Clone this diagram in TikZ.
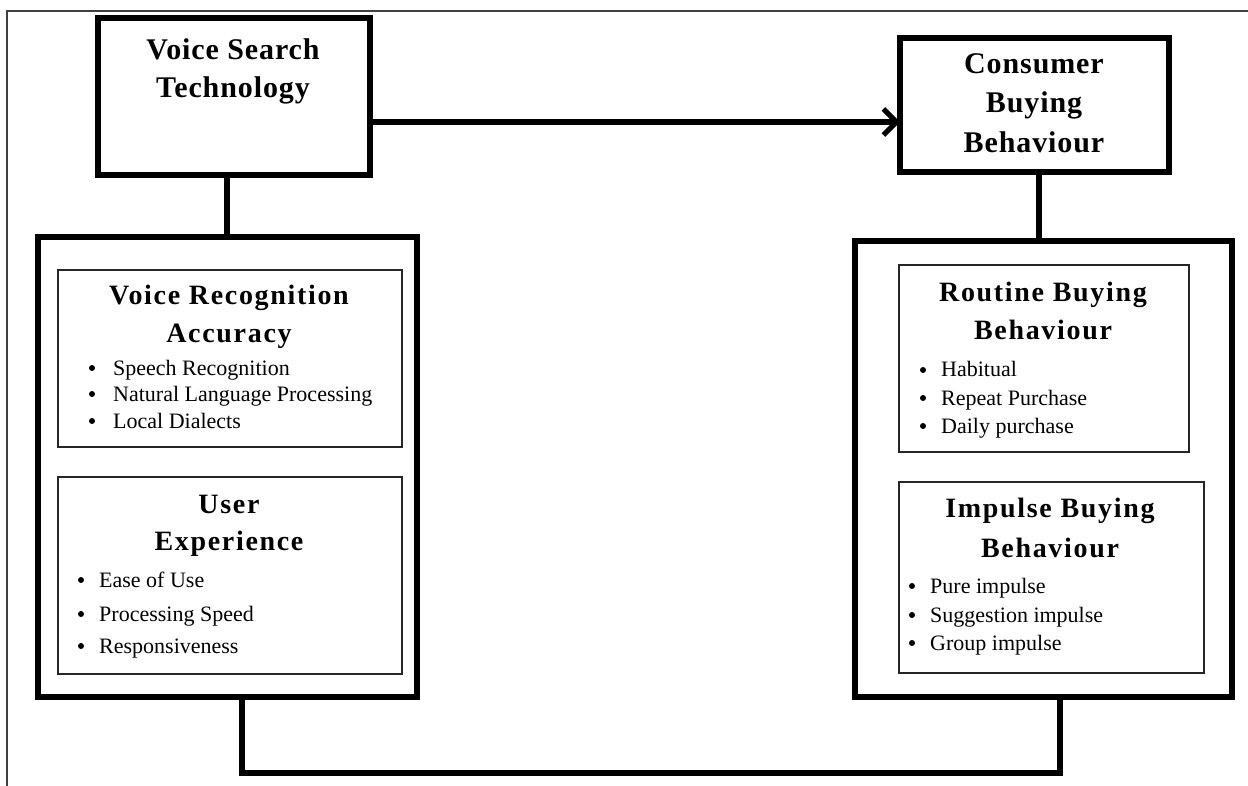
\documentclass[tikz,border=0pt]{standalone}
\usepackage{fontspec}
\setmainfont{Liberation Serif}
\newfontfamily\hdfont[LetterSpace=6]{Liberation Serif}
\newfontfamily\ttlfont[LetterSpace=3]{Liberation Serif}
\usetikzlibrary{arrows.meta}
\begin{document}
\begin{tikzpicture}[x=1pt,y=-1pt,
  bigbox/.style={draw=black,line width=6pt,inner sep=0pt,outer sep=0pt,rectangle},
  subbox/.style={draw=black!85,line width=1.3pt,inner sep=0pt,outer sep=0pt,rectangle},
  conn/.style={draw=black,line width=5.5pt},
  hd/.style={anchor=base,inner sep=0pt,font=\hdfont\bfseries\fontsize{28}{30}\selectfont},
  hdl/.style={anchor=base,inner sep=0pt,font=\ttlfont\bfseries\fontsize{30}{32}\selectfont},
  itm/.style={anchor=base west,inner sep=0pt,font=\fontsize{22}{24}\selectfont},
  bul/.style={circle,fill=black,inner sep=0pt,minimum size=6pt,yshift=7pt}]
\useasboundingbox (0,0) rectangle (1248,786);
\fill[white] (0,0) rectangle (1248,786);
% outer frame (partly cropped)
\draw[black!75,line width=1.5pt] (7,786) -- (7,11) -- (1248,11);

% main boxes
\node[bigbox,minimum width=272pt,minimum height=157pt] (vst) at (234,96.5) {};
\node[bigbox,minimum width=269pt,minimum height=134pt] (cbb) at (1034.5,105) {};
\node[bigbox,minimum width=379pt,minimum height=460pt] (lbig) at (227.5,467) {};
\node[bigbox,minimum width=377pt,minimum height=456pt] (rbig) at (1043.5,469) {};

% sub boxes
\node[subbox,minimum width=344pt,minimum height=177pt] (vra) at (230,358.5) {};
\node[subbox,minimum width=344pt,minimum height=197pt] (ux) at (230,575.5) {};
\node[subbox,minimum width=290pt,minimum height=187pt] (rbb) at (1044,358.5) {};
\node[subbox,minimum width=305pt,minimum height=191pt] (ibb) at (1051.5,577.5) {};

% titles
\node[hdl] (t1) at (233,60) {Voice Search};
\node[hdl] (t2) at (233,98) {Technology};
\node[hdl] (c1) at (1034,74) {Consumer};
\node[hdl] (c2) at (1034,113) {Buying};
\node[hdl] (c3) at (1034,153) {Behaviour};

% VRA
\node[hd] (vra1) at (229,305) {Voice Recognition};
\node[hd] (vra2) at (229,342) {Accuracy};
\node[bul] (vb1) at (92,375) {};
\node[bul] (vb2) at (92,401) {};
\node[bul] (vb3) at (92,428) {};
\node[itm] (vi1) at (113,375) {Speech Recognition};
\node[itm] (vi2) at (113,401) {Natural Language Processing};
\node[itm] (vi3) at (113,428) {Local Dialects};

% UX
\node[hd] (ux1) at (229,513) {User};
\node[hd] (ux2) at (229,550) {Experience};
\node[bul] (ub1) at (81,587) {};
\node[bul] (ub2) at (81,621) {};
\node[bul] (ub3) at (81,653) {};
\node[itm] (ui1) at (99,587) {Ease of Use};
\node[itm] (ui2) at (99,621) {Processing Speed};
\node[itm] (ui3) at (99,653) {Responsiveness};

% RBB
\node[hd] (rb1) at (1043,302) {Routine Buying};
\node[hd] (rb2) at (1043,340) {Behaviour};
\node[bul] (rbb1) at (923,377) {};
\node[bul] (rbb2) at (923,405) {};
\node[bul] (rbb3) at (923,433) {};
\node[itm] (ri1) at (941,377) {Habitual};
\node[itm] (ri2) at (941,405) {Repeat Purchase};
\node[itm] (ri3) at (941,433) {Daily purchase};

% IBB
\node[hd] (ib1) at (1050,517) {Impulse Buying};
\node[hd] (ib2) at (1050,557) {Behaviour};
\node[bul] (ibb1) at (912,593) {};
\node[bul] (ibb2) at (912,622) {};
\node[bul] (ibb3) at (912,650) {};
\node[itm] (ii1) at (930,593) {Pure impulse};
\node[itm] (ii2) at (930,622) {Suggestion impulse};
\node[itm] (ii3) at (930,650) {Group impulse};

% connectors
\coordinate (ay) at (0,122);
\coordinate (by) at (0,773);
\draw[conn,-{Straight Barb[length=13pt,width=26pt,line width=5pt]}] (vst.east |- ay) -- (cbb.west |- ay);
\draw[conn] ([xshift=-7pt]vst.south) -- ([xshift=-7pt]vst.south |- lbig.north);
\draw[conn] ([xshift=4.5pt]cbb.south) -- ([xshift=4.5pt]cbb.south |- rbig.north);
\draw[conn] ([xshift=14.5pt]lbig.south) -- ([xshift=14.5pt]lbig.south |- by)
  -- ([xshift=16.5pt]rbig.south |- by) -- ([xshift=16.5pt]rbig.south);
\end{tikzpicture}
\end{document}
